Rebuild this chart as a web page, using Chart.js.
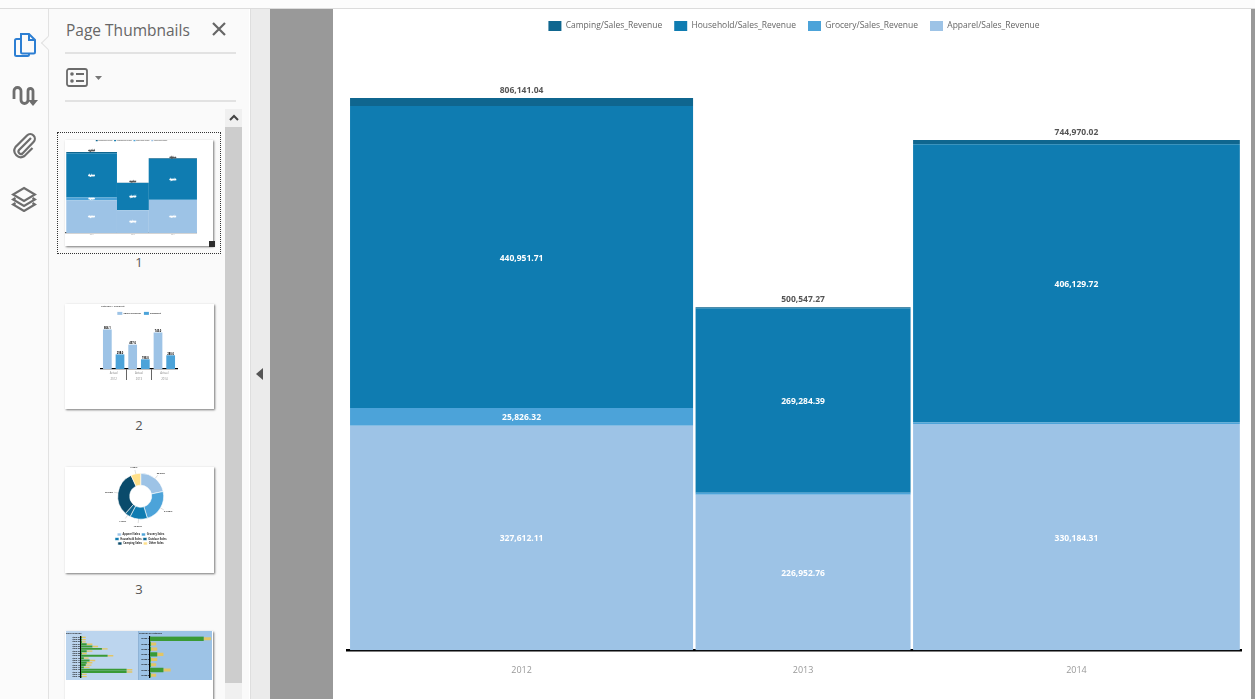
<!DOCTYPE html>
<html lang="en">
<head>
  <meta charset="UTF-8" />
  <title>Page Thumbnails - Sales Revenue</title>
  <script src="https://cdn.jsdelivr.net/npm/chart.js@4.4.0/dist/chart.umd.min.js"></script>
  <style>
    html, body { margin: 0; padding: 0; width: 1255px; height: 699px; overflow: hidden; background: #fff; font-family: "Open Sans", sans-serif; }
    div, svg, canvas { position: absolute; }
    #topbar { left: 0; top: 0; width: 1255px; height: 8px; background: #fcfcfc; border-bottom: 1px solid #dcdcdc; }
    #toolstrip { left: 0; top: 9px; width: 48px; height: 690px; background: #fbfbfb; border-right: 1px solid #e2e2e2; }
    #notch { left: 43px; top: 38px; width: 9px; height: 9px; background: #fafafa; border-left: 1px solid #e2e2e2; border-bottom: 1px solid #e2e2e2; transform: rotate(45deg); }
    #panel { left: 49px; top: 9px; width: 200px; height: 690px; background: #fafafa; }
    #paneltitle { left: 66px; top: 19px; font-size: 15.5px; color: #666; white-space: nowrap; }
    .rule { left: 65px; width: 171px; height: 2px; background: #e2e2e2; }
    #track { left: 225px; top: 127px; width: 17px; height: 556px; background: #cdcdcd; }
    #trackup { left: 225px; top: 109px; width: 17px; height: 18px; background: #f0f0f0; }
    #trackdown { left: 225px; top: 683px; width: 17px; height: 16px; background: #f0f0f0; }
    #collapse { left: 250px; top: 9px; width: 20px; height: 690px; background: #ebebeb; border-left: 1px solid #dedede; box-sizing: border-box; }
    #greyL { left: 270px; top: 9px; width: 63px; height: 690px; background: #999; }
    #greyR { left: 1251px; top: 9px; width: 4px; height: 690px; background: #999; }
    .thumbpage { background: #fff; box-shadow: 1px 1px 2px #777; }
    .thumbnum { width: 20px; text-align: center; font-size: 13px; color: #555; }
    #selected { left: 57px; top: 132px; width: 162px; height: 120px; border: 1px dotted #333; }
    #marker { left: 209px; top: 241px; width: 6px; height: 6px; background: #2b2b2b; }
    .soft { filter: blur(0.35px); }
    #mainChart { filter: blur(0.25px); }
  </style>
</head>
<body>
  <div id="topbar"></div>
  <div id="toolstrip"></div>
  <div id="panel"></div>
  <div id="notch"></div>

  <svg style="left:12px;top:30px" width="26" height="30" viewBox="0 0 26 30" fill="none" stroke="#2d7fd3" stroke-width="2">
    <path d="M9 4h8l6 6v12a1.5 1.5 0 0 1-1.5 1.5H10.500A1.500 1.500 0 0 1 9 22z" />
    <path d="M17 4v6h6" />
    <path d="M9 9H4.500A1.500 1.500 0 0 0 3 10.500v14A1.500 1.500 0 0 0 4.500 26h11a1.500 1.500 0 0 0 1.500-1.500V23.500" />
  </svg>
  <svg style="left:12px;top:84px" width="26" height="26" viewBox="0 0 26 26" fill="none" stroke="#6e6e6e" stroke-width="2.800">
    <path d="M2 15V7a3.500 3.500 0 0 1 7 0v9a3.500 3.500 0 0 0 7 0V7a2.500 2.500 0 0 1 5 0v10" />
    <path d="M16 16l5 6 5-6z" fill="#6e6e6e" stroke="none" />
  </svg>
  <svg style="left:11px;top:133px" width="26" height="26" viewBox="0 0 26 26" fill="none" stroke="#6e6e6e" stroke-width="2.200">
    <path d="M20 5 8 17a2.500 2.500 0 0 0 3.500 3.500L22.500 9a4.500 4.500 0 0 0-6.500-6.500L4.500 14a6.500 6.500 0 0 0 9 9l8-8" />
  </svg>
  <svg style="left:11px;top:186px" width="26" height="26" viewBox="0 0 26 26" fill="none" stroke="#6e6e6e" stroke-width="2.200">
    <path d="M13 2 24 8.500 13 15 2 8.500z" />
    <path d="M4.500 12 2 13.500 13 20l11-6.500L21.500 12" />
    <path d="M4.500 17 2 18.500 13 25l11-6.500L21.500 17" />
  </svg>

  <div id="paneltitle">Page Thumbnails</div>
  <svg style="left:212px;top:22px" width="14" height="14" viewBox="0 0 14 14" stroke="#666" stroke-width="2.200">
    <path d="M1 1l12 12M13 1 1 13" />
  </svg>
  <div class="rule" style="top:52px"></div>
  <svg style="left:66px;top:68px" width="36" height="19" viewBox="0 0 36 19">
    <rect x="1" y="1" width="20" height="17" rx="2" fill="none" stroke="#6b6b6b" stroke-width="1.800" />
    <circle cx="6" cy="6" r="1.800" fill="#6b6b6b" /><circle cx="6" cy="13" r="1.800" fill="#6b6b6b" />
    <path d="M10 6h8M10 13h8" stroke="#6b6b6b" stroke-width="1.800" />
    <path d="M29 8h7l-3.500 4z" fill="#777" />
  </svg>
  <div class="rule" style="top:100px"></div>

  <div id="track"></div>
  <div id="trackup"></div>
  <div id="trackdown"></div>
  <svg style="left:229px;top:114px" width="10" height="8" viewBox="0 0 10 8" fill="none" stroke="#444" stroke-width="2"><path d="M1 6l4-4 4 4" /></svg>

  <div id="collapse"></div>
  <svg style="left:256px;top:368px" width="8" height="12" viewBox="0 0 8 12"><path d="M7 0v12L0 6z" fill="#555" /></svg>
  <div id="greyL"></div>

  <!-- thumbnails -->
  <div id="selected"></div>
  <div class="thumbpage" style="left:65px;top:140px;width:148px;height:106px"></div>
  <div id="marker"></div>
  <div class="thumbnum" style="left:129px;top:253px">1</div>
  <div class="thumbpage" style="left:65px;top:304px;width:149px;height:105px"></div>
  <div class="thumbnum" style="left:129px;top:416px">2</div>
  <div class="thumbpage" style="left:65px;top:467px;width:149px;height:106px"></div>
  <div class="thumbnum" style="left:129px;top:580px">3</div>
  <div class="thumbpage" style="left:65px;top:631px;width:148px;height:80px"></div>
  <div style="left:66px;top:631px;width:73px;height:49px;background:#bcd5ee"></div>
  <div style="left:138px;top:631px;width:74px;height:49px;background:#9dc3e6;border-left:1px solid #8fb3d6;box-sizing:border-box"></div>

  <canvas id="thumbMekko" class="soft" width="135" height="101" style="left:64px;top:140px"></canvas>
  <canvas id="thumbBars" class="soft" width="148" height="100" style="left:65px;top:304px"></canvas>
  <canvas id="thumbDonut" class="soft" width="148" height="94" style="left:65px;top:467px"></canvas>
  <canvas id="thumbLeft" class="soft" width="72" height="49" style="left:66px;top:631px"></canvas>
  <canvas id="thumbRight" class="soft" width="73" height="49" style="left:139px;top:631px"></canvas>

  <canvas id="mainChart" width="922" height="690" style="left:333px;top:9px"></canvas>
  <div id="greyR"></div>

  <script>
    // main chart data
    const years = ['2012', '2013', '2014'];
    const seriesNames = ['Apparel/Sales_Revenue', 'Grocery/Sales_Revenue', 'Household/Sales_Revenue', 'Camping/Sales_Revenue'];
    const apparel = [327612.11, 226952.76, 330184.31];
    const grocery = [25826.32, 2800, 2400];
    const household = [440951.71, 269284.39, 406129.72];
    const camping = [11750.90, 1510.12, 6255.99];
    const totals = [806141.04, 500547.27, 744970.02];
    const columnShares = [38.65, 24.33, 36.83];
    const seriesColors = ['#9dc3e6', '#4ca3d9', '#0f7cb1', '#0f668f'];

    // page 2 thumbnail
    const thumbBarLabels = [['Actual', '2012'], ['Actual', '2013'], ['Actual', '2014']];
    const thumbRevenue = [806141, 497000, 745000];
    const thumbDiscount = [298000, 198000, 280000];

    // page 3 thumbnail
    const donutLabels = ['Apparel Sales', 'Grocery Sales', 'Household Sales', 'Outdoor Sales', 'Camping Sales', 'Other Sales'];
    const donutValues = [22, 24, 12.5, 4, 32, 7];
    const donutColors = ['#9dc3e6', '#4ca3d9', '#0f7cb1', '#0f668f', '#0a4b6b', '#ffe08a'];

    // page 4 thumbnail
    const leftRows = ['Item 01', 'Item 02', 'Item 03', 'Item 04', 'Item 05', 'Item 06', 'Item 07', 'Item 08', 'Item 09', 'Item 10', 'Item 11', 'Item 12', 'Item 13', 'Item 14', 'Item 15', 'Item 16', 'Item 17', 'Item 18'];
    const leftBars = [1, 1, 1, 6, 12, 22, 6, 1, 28, 3, 9, 6, 5, 3, 48, 48, 1, 1];
    const leftTags = [4, 4, 4, 6, 6, 6, 6, 5, 6, 5, 6, 6, 6, 6, 6, 6, 5, 5];
    const rightRows = ['Group 1', 'Group 2', 'Group 3', 'Group 4', 'Group 5', 'Group 6', 'Group 7', 'Group 8'];
    const rightBars = [52, 1, 1, 7, 1, 1, 13, 1];
    const rightTags = [7, 5, 6, 6, 6, 5, 7, 5];

    const FONT = '"Open Sans", sans-serif';
    Chart.defaults.animation = false;
    Chart.defaults.responsive = false;
    Chart.defaults.font.family = FONT;

    const tinyFont = { family: FONT, size: 2.4, weight: 'bold' };
    const money = v => v.toLocaleString('en-US', { minimumFractionDigits: 2 });

    function mekkoLabels(s) {
      const labelSize = 8.5 * s;
      return {
        id: 'mekkoLabels',
        afterDatasetsDraw(chart) {
          const ctx = chart.ctx;
          const put = (text, x, y, color) => {
            ctx.fillStyle = color;
            ctx.fillText(text, x, y);
            // the thumbnail text only survives as a thick little dash
            if (s < 1) {
              ctx.strokeStyle = color;
              ctx.lineWidth = 0.7;
              ctx.strokeText(text, x, y);
            }
          };
          ctx.save();
          ctx.textAlign = 'center';
          ctx.textBaseline = 'middle';
          ctx.font = 'bold ' + labelSize + 'px ' + FONT;
          chart.data.datasets.forEach((ds, i) => {
            const bar = chart.getDatasetMeta(i).data[0];
            if (Math.abs(bar.base - bar.y) > 10 * s && ds.seriesIndex < 3) {
              put(money(ds.data[0].y), bar.x, (bar.y + bar.base) / 2 + s, '#fff');
            }
            if (ds.seriesIndex === 3) {
              put(money(totals[ds.yearIndex]), bar.x, bar.y - 7.5 * s, '#555');
            }
          });
          ctx.restore();
        }
      };
    }

    function buildMekko(id, cfg) {
      const s = cfg.s;
      const sliceStart = 0.2;
      const centers = [];
      let edge = sliceStart;
      columnShares.forEach(w => { centers.push(edge + w / 2); edge += w; });
      const spacing = Math.min(centers[1] - centers[0], centers[2] - centers[1]);
      const stacks = [apparel, grocery, household, camping];

      const datasets = [];
      years.forEach((year, y) => {
        stacks.forEach((values, k) => {
          datasets.push({
            label: seriesNames[k],
            seriesIndex: k,
            yearIndex: y,
            data: [{ x: centers[y], y: values[y] }],
            backgroundColor: seriesColors[k],
            borderWidth: 0,
            grouped: false,
            barPercentage: (columnShares[y] - cfg.gap) / spacing,
            categoryPercentage: 1
          });
        });
      });

      return new Chart(document.getElementById(id), {
        type: 'bar',
        data: { datasets },
        plugins: [mekkoLabels(s)],
        options: {
          layout: { padding: { left: 14 * s, right: 14 * s, top: cfg.topPad, bottom: cfg.bottomPad } },
          plugins: {
            tooltip: { enabled: false },
            legend: {
              position: 'top',
              reverse: true,
              labels: {
                boxWidth: 13 * s,
                boxHeight: 10 * s,
                padding: 12 * s,
                color: s < 1 ? '#222' : '#666',
                font: { family: FONT, size: 8.5 * s },
                filter: item => item.datasetIndex < 4
              }
            }
          },
          scales: {
            x: {
              type: 'linear',
              offset: false,
              min: 0,
              max: 100,
              grid: { display: false, tickLength: cfg.tickLength },
              border: { color: s < 1 ? '#555' : '#000', width: Math.max(2.5 * s, 1.2) },
              afterBuildTicks: scale => { scale.ticks = centers.map(v => ({ value: v })); },
              ticks: {
                autoSkip: false,
                maxRotation: 0,
                padding: cfg.tickPad,
                color: '#999',
                font: { family: FONT, size: Math.max(9 * s, 1.6) },
                callback: (v, i) => years[i]
              }
            },
            y: { display: false, stacked: true, min: 0, max: cfg.yMax }
          }
        }
      });
    }

    buildMekko('mainChart', { s: 1, yMax: 889380, gap: 0.28, topPad: 0, bottomPad: 16, tickPad: 7, tickLength: 8 });
    buildMekko('thumbMekko', { s: 0.146, yMax: 815100, gap: -0.1, topPad: -2, bottomPad: 4.5, tickPad: 0.5, tickLength: 0.5 });

    // page 2 thumbnail: grouped bars
    new Chart(document.getElementById('thumbBars'), {
      type: 'bar',
      data: {
        labels: thumbBarLabels,
        datasets: [
          { label: 'Sales_Revenue', data: thumbRevenue, backgroundColor: '#9dc3e6' },
          { label: 'Discount', data: thumbDiscount, backgroundColor: '#4ca3d9' }
        ]
      },
      plugins: [{
        id: 'barTops',
        afterDatasetsDraw(chart) {
          const ctx = chart.ctx;
          ctx.save();
          ctx.font = 'bold 2.6px ' + FONT;
          ctx.fillStyle = '#000';
          ctx.textAlign = 'center';
          chart.data.datasets.forEach((ds, i) => {
            chart.getDatasetMeta(i).data.forEach((bar, j) => {
              ctx.fillText((ds.data[j] / 1000).toFixed(1), bar.x, bar.y - 1);
            });
          });
          // two line category labels under the axis
          const xs = chart.scales.x;
          ctx.font = '2.8px ' + FONT;
          ctx.fillStyle = '#888';
          thumbBarLabels.forEach((lines, i) => {
            lines.forEach((line, k) => ctx.fillText(line, xs.getPixelForTick(i), xs.top + 4.5 + k * 6));
          });
          ctx.restore();
        }
      }],
      options: {
        layout: { padding: { left: 36, right: 36, top: 0, bottom: 24 } },
        plugins: {
          tooltip: { enabled: false },
          title: { display: true, text: 'Category / Discount', align: 'start', color: '#555', font: tinyFont, padding: { top: 1, bottom: 1 } },
          legend: {
            labels: { boxWidth: 5, boxHeight: 3, padding: 3, color: '#333', font: tinyFont }
          }
        },
        datasets: { bar: { categoryPercentage: 1, barPercentage: 0.69 } },
        scales: {
          x: {
            grid: {
              drawOnChartArea: false,
              offset: true,
              tickLength: 11,
              tickColor: c => (c.index === undefined || c.index === 0) ? 'transparent' : '#666',
              color: 'transparent'
            },
            border: { color: '#000', width: 1.3 },
            ticks: { display: false }
          },
          y: { display: false, min: 0, max: 900000 }
        }
      }
    });

    // page 3 thumbnail: doughnut
    new Chart(document.getElementById('thumbDonut'), {
      type: 'doughnut',
      data: {
        labels: donutLabels,
        datasets: [{ data: donutValues, backgroundColor: donutColors, borderColor: '#fff', borderWidth: 0.6 }]
      },
      plugins: [{
        id: 'sliceTags',
        afterDatasetsDraw(chart) {
          const ctx = chart.ctx;
          ctx.save();
          ctx.font = 'bold 2.4px ' + FONT;
          ctx.textAlign = 'center';
          ctx.textBaseline = 'middle';
          chart.getDatasetMeta(0).data.forEach((arc, i) => {
            const a = (arc.startAngle + arc.endAngle) / 2;
            const cos = Math.cos(a);
            const sin = Math.sin(a);
            const r = arc.outerRadius;
            ctx.strokeStyle = '#bbb';
            ctx.lineWidth = 0.5;
            ctx.beginPath();
            ctx.moveTo(arc.x + cos * r, arc.y + sin * r);
            ctx.lineTo(arc.x + cos * (r + 4), arc.y + sin * (r + 4));
            ctx.stroke();
            ctx.fillStyle = '#333';
            ctx.fillText(donutValues[i].toFixed(2) + '%', arc.x + cos * (r + 9), arc.y + sin * (r + 7));
          });
          ctx.restore();
        }
      }],
      options: {
        cutout: '48%',
        layout: { padding: { left: 46.7, right: 43.3, top: 6, bottom: 6 } },
        plugins: {
          tooltip: { enabled: false },
          legend: {
            position: 'bottom',
            fullSize: false,
            // blank title only pushes the rows away from the ring
            title: { display: true, text: ' ', padding: 5.4, font: { family: FONT, size: 1 } },
            labels: { boxWidth: 4, boxHeight: 3, padding: 1.5, color: '#333', font: { family: FONT, size: 2.6, weight: 'bold' } }
          }
        }
      }
    });

    // page 4 thumbnail: two horizontal bars with value tags
    function buildThumbHBars(id, title, rows, bars, tags, axisAt) {
      new Chart(document.getElementById(id), {
        type: 'bar',
        data: {
          labels: rows,
          datasets: [
            { data: bars, backgroundColor: '#3a9a35', barPercentage: 1, categoryPercentage: 0.85 },
            { data: tags, backgroundColor: '#e2c566', barPercentage: 0.7, categoryPercentage: 0.85 }
          ]
        },
        options: {
          indexAxis: 'y',
          layout: { padding: { left: 0, right: 0, top: 0, bottom: 2 } },
          plugins: {
            legend: { display: false },
            tooltip: { enabled: false },
            title: { display: true, text: title, align: 'start', color: '#222', font: { family: FONT, size: 2.2, weight: 'bold' }, padding: { top: 1, bottom: 1.5 } }
          },
          scales: {
            x: { display: false, stacked: true, min: 0, max: 60 },
            y: {
              stacked: true,
              afterFit: scale => { scale.width = axisAt; },
              grid: { display: false, drawTicks: false },
              border: { color: '#000', width: 1.2 },
              ticks: { autoSkip: false, padding: 1, color: '#111', font: { family: FONT, size: 2, weight: 'bold' } }
            }
          }
        }
      });
    }
    buildThumbHBars('thumbLeft', 'Sales Revenue', leftRows, leftBars, leftTags, 15);
    buildThumbHBars('thumbRight', 'Revenue by Category', rightRows, rightBars, rightTags, 11);
  </script>
</body>
</html>
